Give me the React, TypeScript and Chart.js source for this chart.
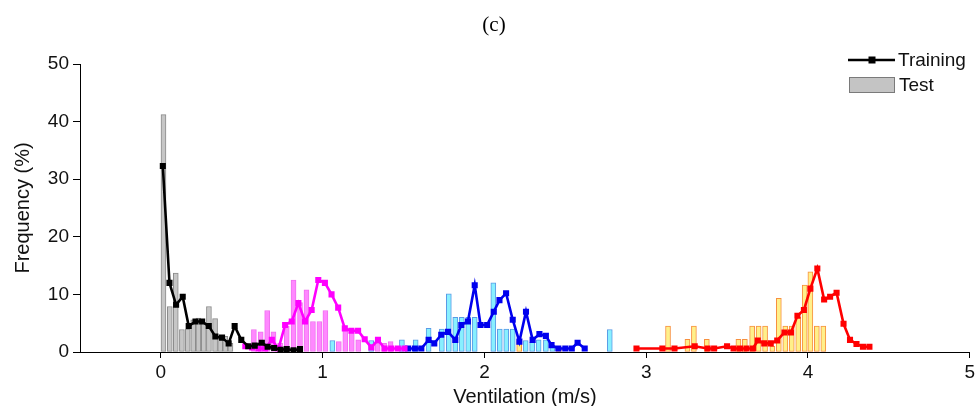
import React, { useEffect, useRef } from "react";
import { Chart, registerables } from "chart.js";

Chart.register(...registerables);

// ---- tick labels ----
const X_TICKS = [0, 1, 2, 3, 4, 5];
const Y_TICKS = [0, 10, 20, 30, 40, 50];

// ---- 0 m/s group ----
const train0X = [0.012, 0.053, 0.094, 0.135, 0.172, 0.214, 0.255, 0.296, 0.337, 0.378, 0.419, 0.456, 0.497, 0.54, 0.58, 0.624, 0.66, 0.7, 0.74, 0.778, 0.82, 0.86];
const train0Y = [32.3, 12.0, 8.2, 9.6, 4.5, 5.3, 5.3, 4.5, 2.7, 2.5, 1.5, 4.5, 2.1, 1.0, 1.1, 1.6, 0.9, 0.7, 0.4, 0.5, 0.3, 0.5];
const test0X = [0.016, 0.055, 0.092, 0.13, 0.166, 0.2, 0.232, 0.265, 0.297, 0.335, 0.367, 0.398, 0.43];
const test0Y = [41.2, 7.9, 13.7, 3.9, 4.0, 5.6, 5.9, 5.0, 7.9, 5.8, 2.7, 2.7, 1.5];

// ---- 1 m/s group ----
const train1X = [0.522, 0.563, 0.604, 0.645, 0.686, 0.727, 0.768, 0.809, 0.85, 0.891, 0.932, 0.973, 1.014, 1.055, 1.096, 1.137, 1.178, 1.219, 1.26, 1.301, 1.342, 1.383, 1.424, 1.465, 1.506];
const train1Y = [1.0, 0.8, 0.6, 0.6, 2.1, 0.6, 4.7, 5.3, 8.5, 5.3, 7.3, 12.5, 12.0, 10.0, 7.7, 4.1, 3.7, 3.7, 2.2, 0.8, 2.1, 0.6, 0.6, 0.6, 0.6];
const test1X = [0.575, 0.617, 0.657, 0.696, 0.737, 0.778, 0.82, 0.86, 0.9, 0.94, 0.98, 1.017, 1.1, 1.14, 1.18, 1.22, 1.34, 1.38, 1.42];
const test1Y = [3.9, 3.5, 7.2, 3.5, 1.5, 4.5, 12.5, 8.6, 10.8, 5.3, 5.3, 7.2, 1.8, 3.8, 3.8, 2.1, 1.5, 1.5, 1.8];

// ---- 2 m/s group ----
const train2X = [1.528, 1.57, 1.61, 1.655, 1.69, 1.733, 1.775, 1.82, 1.857, 1.898, 1.94, 1.976, 2.017, 2.058, 2.093, 2.134, 2.175, 2.216, 2.257, 2.298, 2.34, 2.38, 2.415, 2.457, 2.5, 2.54, 2.576, 2.62];
const train2Y = [0.6, 0.6, 0.6, 2.1, 1.5, 3.0, 3.5, 2.1, 4.7, 5.3, 11.6, 4.7, 4.7, 7.0, 9.0, 10.2, 5.6, 1.8, 7.0, 2.1, 3.1, 2.8, 1.2, 0.6, 0.6, 0.6, 1.6, 0.6];
const test2X = [1.06, 1.3, 1.49, 1.575, 1.655, 1.737, 1.78, 1.82, 1.86, 1.9, 1.94, 2.055, 2.095, 2.135, 2.175, 2.255, 2.295, 2.335, 2.38, 2.42, 2.775];
const test2Y = [2.0, 2.0, 2.1, 2.1, 4.1, 4.0, 10.1, 6.0, 6.0, 6.0, 6.0, 12.0, 4.0, 4.0, 4.0, 2.0, 1.7, 2.1, 2.1, 0.8, 3.9];

// ---- 4 m/s group ----
const train4X = [2.94, 3.1, 3.175, 3.3, 3.38, 3.42, 3.5, 3.54, 3.58, 3.62, 3.66, 3.69, 3.73, 3.77, 3.81, 3.855, 3.895, 3.935, 3.975, 4.015, 4.058, 4.1, 4.137, 4.177, 4.22, 4.26, 4.3, 4.34, 4.38];
const train4Y = [0.6, 0.6, 0.6, 1.0, 0.6, 0.6, 1.0, 0.6, 0.6, 0.6, 0.6, 2.0, 1.5, 1.5, 2.0, 3.4, 3.4, 6.3, 7.3, 11.0, 14.5, 9.1, 9.6, 10.3, 4.9, 2.1, 1.4, 0.9, 0.9];
const test4X = [2.215, 2.46, 3.135, 3.255, 3.295, 3.375, 3.57, 3.61, 3.655, 3.695, 3.735, 3.78, 3.82, 3.86, 3.9, 3.94, 3.98, 4.015, 4.055, 4.095];
const test4Y = [2.0, 0.8, 4.5, 2.2, 4.5, 2.2, 2.2, 2.2, 4.5, 4.5, 4.5, 1.0, 9.3, 4.5, 4.5, 6.0, 11.6, 13.9, 4.5, 4.5];

const TITLE = "(c)";
const X_TITLE = "Ventilation (m/s)";
const Y_TITLE = "Frequency (%)";
const LEGEND_TRAIN = "Training";
const LEGEND_TEST = "Test";

const SANS = "'Liberation Sans', Arial, Helvetica, sans-serif";
const SERIF = "'Liberation Serif', 'Times New Roman', serif";

const pts = (xs: number[], ys: number[]) => xs.map((x, i) => ({ x, y: ys[i] }));

const barDs = (label: string, xs: number[], ys: number[], fill: string, border: string) => ({
  type: "bar" as const,
  label,
  data: pts(xs, ys),
  backgroundColor: fill,
  borderColor: border,
  borderWidth: 1,
  borderSkipped: false,
  barThickness: 5,
  grouped: false,
  order: 2,
});

const lineDs = (label: string, xs: number[], ys: number[], color: string) => ({
  type: "line" as const,
  label,
  data: pts(xs, ys),
  borderColor: color,
  backgroundColor: color,
  borderWidth: 2.6,
  pointStyle: "rect",
  pointRadius: 4.3,
  pointBorderWidth: 0,
  pointBackgroundColor: color,
  tension: 0,
  fill: false,
  order: 1,
});

const decorPlugin = {
  id: "decor",
  afterDraw(chart: any) {
    const ctx = chart.ctx;
    ctx.save();
    // title
    ctx.fillStyle = "#000";
    ctx.font = `21px ${SERIF}`;
    ctx.textAlign = "center";
    ctx.textBaseline = "middle";
    ctx.fillText(TITLE, 494, 25);
    // legend: training
    ctx.strokeStyle = "#000";
    ctx.lineWidth = 2.5;
    ctx.beginPath();
    ctx.moveTo(848, 60);
    ctx.lineTo(895, 60);
    ctx.stroke();
    ctx.fillRect(868.5, 56.5, 7, 7);
    ctx.font = `19px ${SANS}`;
    ctx.textAlign = "left";
    ctx.fillStyle = "#111";
    ctx.fillText(LEGEND_TRAIN, 898, 61);
    // legend: test
    ctx.fillStyle = "#c4c4c4";
    ctx.fillRect(849, 77, 45, 15);
    ctx.strokeStyle = "#7a7a7a";
    ctx.lineWidth = 1;
    ctx.strokeRect(849.5, 77.5, 45, 15);
    ctx.fillStyle = "#111";
    ctx.fillText(LEGEND_TEST, 899, 86);
    ctx.restore();
  },
};

export default function App() {
  const ref = useRef<HTMLCanvasElement | null>(null);

  useEffect(() => {
    document.body.style.margin = "0";
    if (!ref.current) return;
    const chart = new Chart(ref.current, {
      type: "bar",
      data: {
        datasets: [
          barDs("Test 0", test0X, test0Y, "#c6c6c6", "#8a8a8a"),
          barDs("Test 1", test1X, test1Y, "#ff88ff", "#f070f0"),
          barDs("Test 2", test2X, test2Y, "#88f0ff", "#5a9ae6"),
          barDs("Test 4", test4X, test4Y, "#fff08a", "#f7903f"),
          lineDs("Training 0", train0X, train0Y, "#000000"),
          lineDs("Training 1", train1X, train1Y, "#ff00ff"),
          lineDs("Training 2", train2X, train2Y, "#0000ee"),
          lineDs("Training 4", train4X, train4Y, "#ff0000"),
        ] as any,
      },
      options: {
        responsive: false,
        animation: false,
        layout: { padding: { top: 64, right: 5, left: 0, bottom: 0 } },
        plugins: { legend: { display: false }, title: { display: false }, tooltip: { enabled: false } },
        scales: {
          x: {
            type: "linear",
            min: -0.5,
            max: 5,
            offset: false,
            afterFit: (s: any) => { s.height = 54; },
            afterBuildTicks: (s: any) => { s.ticks = X_TICKS.map((v) => ({ value: v })); },
            grid: { display: true, drawOnChartArea: false, drawTicks: true, tickLength: 6, color: "#000", offset: false },
            border: { display: true, color: "#000", width: 1 },
            ticks: { color: "#111", font: { family: SANS, size: 19 }, padding: 3, maxRotation: 0 },
            title: { display: true, text: X_TITLE, color: "#111", font: { family: SANS, size: 20, lineHeight: 1 }, padding: { top: 0, bottom: -1 } },
          },
          y: {
            type: "linear",
            min: 0,
            max: 50,
            afterFit: (s: any) => { s.width = 80; },
            afterBuildTicks: (s: any) => { s.ticks = Y_TICKS.map((v) => ({ value: v })); },
            grid: { display: true, drawOnChartArea: false, drawTicks: true, tickLength: 7, color: "#000" },
            border: { display: true, color: "#000", width: 1 },
            ticks: { color: "#111", font: { family: SANS, size: 19 }, padding: 4 },
            title: { display: true, text: Y_TITLE, color: "#111", font: { family: SANS, size: 20, lineHeight: 1 }, padding: { top: 13, bottom: 0 } },
          },
        },
      } as any,
      plugins: [decorPlugin],
    });
    return () => chart.destroy();
  }, []);

  return (
    <div style={{ width: 978, height: 406, background: "#fff" }}>
      <canvas ref={ref} width={978} height={406} style={{ display: "block" }} />
    </div>
  );
}
